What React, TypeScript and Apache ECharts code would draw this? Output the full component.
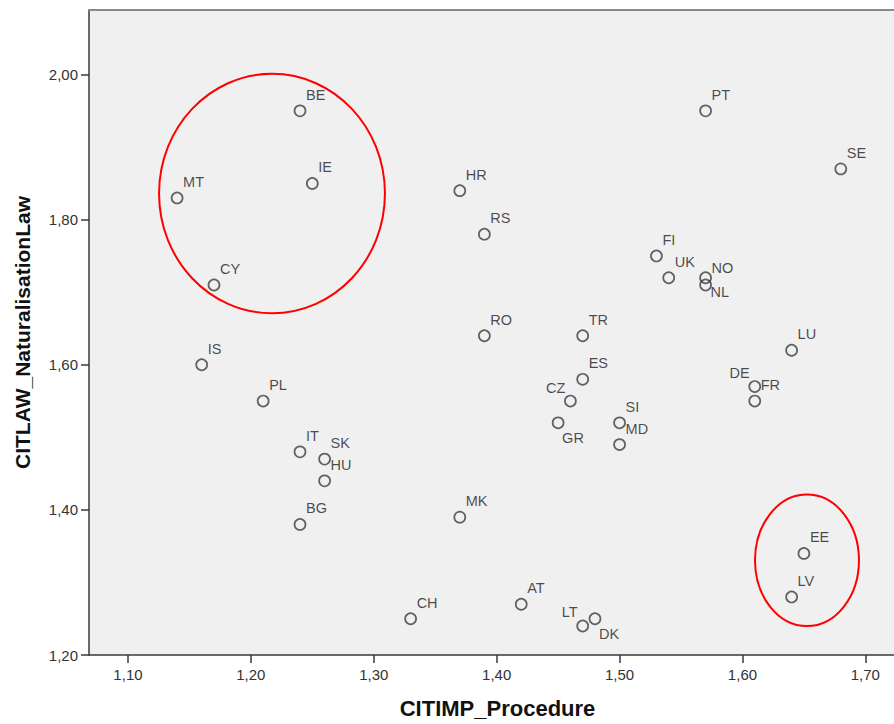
import React, { useEffect, useRef } from "react";
import * as echarts from "echarts";

const countries = ["BE","IE","MT","CY","IS","PL","IT","SK","HU","BG","CH","MK","AT","LT","DK","HR","RS","RO","TR","ES","CZ","GR","SI","MD","FI","UK","NO","NL","PT","SE","LU","DE","FR","EE","LV"];
const citimp = [1.24,1.25,1.14,1.17,1.16,1.21,1.24,1.26,1.26,1.24,1.33,1.37,1.42,1.47,1.48,1.37,1.39,1.39,1.47,1.47,1.46,1.45,1.50,1.50,1.53,1.54,1.57,1.57,1.57,1.68,1.64,1.61,1.61,1.65,1.64];
const citlaw = [1.95,1.85,1.83,1.71,1.60,1.55,1.48,1.47,1.44,1.38,1.25,1.39,1.27,1.24,1.25,1.84,1.78,1.64,1.64,1.58,1.55,1.52,1.52,1.49,1.75,1.72,1.72,1.71,1.95,1.87,1.62,1.57,1.55,1.34,1.28];
const xTicks = [1.1,1.2,1.3,1.4,1.5,1.6,1.7];
const yTicks = [1.2,1.4,1.6,1.8,2.0];
// annotation ellipses in data units: [cx, cy, rx, ry]
const ellipses = [
  [1.2172, 1.836, 0.0919, 0.165],
  [1.6525, 1.3305, 0.0423, 0.0907],
];

const labelPlacement: Record<string, { align: string; offset: number[] }> = {
  GR: { align: "left", offset: [4, 15] },
  DK: { align: "left", offset: [4, 15] },
  LT: { align: "right", offset: [-5, -14] },
  CZ: { align: "right", offset: [-5, -13] },
  DE: { align: "right", offset: [-5, -14] },
  NO: { align: "left", offset: [6, -10] },
  NL: { align: "left", offset: [5, 7] },
};

const fmt = (v: number) => v.toFixed(2).replace(".", ",");
const FONT = "Arial, 'Liberation Sans', sans-serif";

export default function App() {
  const ref = useRef<HTMLDivElement>(null);
  useEffect(() => {
    if (!ref.current) return;
    const chart = echarts.init(ref.current, null, { renderer: "svg" });
    const data = countries.map((c, i) => {
      const p = labelPlacement[c] || { align: "left", offset: [6, -16] };
      return {
        name: c,
        value: [citimp[i], citlaw[i]],
        label: { align: p.align, offset: p.offset },
      };
    });
    const lineCol = "#3a3a3a";
    chart.setOption({
      animation: false,
      backgroundColor: "#ffffff",
      grid: { left: 89, top: 10, right: 0, bottom: 66, show: true, backgroundColor: "#F0F0F0", borderWidth: 0 },
      xAxis: [
        {
          type: "value",
          min: 1.0683,
          max: 1.7233,
          position: "bottom",
          axisLine: { show: true, lineStyle: { color: lineCol, width: 1.5 } },
          axisTick: { show: true, length: 8, customValues: xTicks, lineStyle: { color: lineCol, width: 1.5 } },
          splitLine: { show: false },
          axisLabel: { customValues: xTicks, formatter: fmt, color: "#333", fontSize: 15, fontFamily: FONT, margin: 12 },
          name: "CITIMP_Procedure",
          nameLocation: "middle",
          nameGap: 42,
          nameTextStyle: { fontSize: 22, fontWeight: "bold", color: "#111", fontFamily: FONT, padding: [0, 0, 0, 12] },
        },
        {
          type: "value",
          min: 1.0683,
          max: 1.7233,
          position: "top",
          axisLine: { show: true, lineStyle: { color: "#8a8a8a", width: 2 } },
          axisTick: { show: false },
          axisLabel: { show: false },
          splitLine: { show: false },
        },
      ],
      yAxis: {
        type: "value",
        min: 1.2,
        max: 2.089,
        axisLine: { show: true, lineStyle: { color: lineCol, width: 1.5 } },
        axisTick: { show: true, length: 8, customValues: yTicks, lineStyle: { color: lineCol, width: 1.5 } },
        splitLine: { show: false },
        axisLabel: { customValues: yTicks, formatter: fmt, color: "#333", fontSize: 15, fontFamily: FONT, margin: 11 },
        name: "CITLAW_NaturalisationLaw",
        nameLocation: "middle",
        nameGap: 56,
        nameTextStyle: { fontSize: 21, fontWeight: "bold", color: "#111", fontFamily: FONT },
      },
      series: [
        {
          type: "scatter",
          xAxisIndex: 0,
          symbol: "circle",
          symbolSize: 11,
          itemStyle: { color: "transparent", borderColor: "#3c3c3c", borderWidth: 1.7 },
          label: {
            show: true,
            position: "inside",
            formatter: "{b}",
            verticalAlign: "middle",
            color: "#1e1e1e",
            fontSize: 14.5,
            fontFamily: FONT,
          },
          emphasis: { disabled: true },
          data,
        },
      ],
    });
    const graphics = ellipses.map(([cx, cy, rx, ry]) => {
      const c = chart.convertToPixel({ xAxisIndex: 0, yAxisIndex: 0 }, [cx, cy]) as number[];
      const e = chart.convertToPixel({ xAxisIndex: 0, yAxisIndex: 0 }, [cx + rx, cy + ry]) as number[];
      return {
        type: "ellipse",
        shape: { cx: c[0], cy: c[1], rx: Math.abs(e[0] - c[0]), ry: Math.abs(c[1] - e[1]) },
        style: { fill: "none", stroke: "#FF0000", lineWidth: 2 },
        silent: true,
        z: 10,
      };
    });
    chart.setOption({ graphic: graphics });
    return () => chart.dispose();
  }, []);
  return <div ref={ref} style={{ position: "fixed", left: 0, top: 0, width: 894, height: 724 }} />;
}
